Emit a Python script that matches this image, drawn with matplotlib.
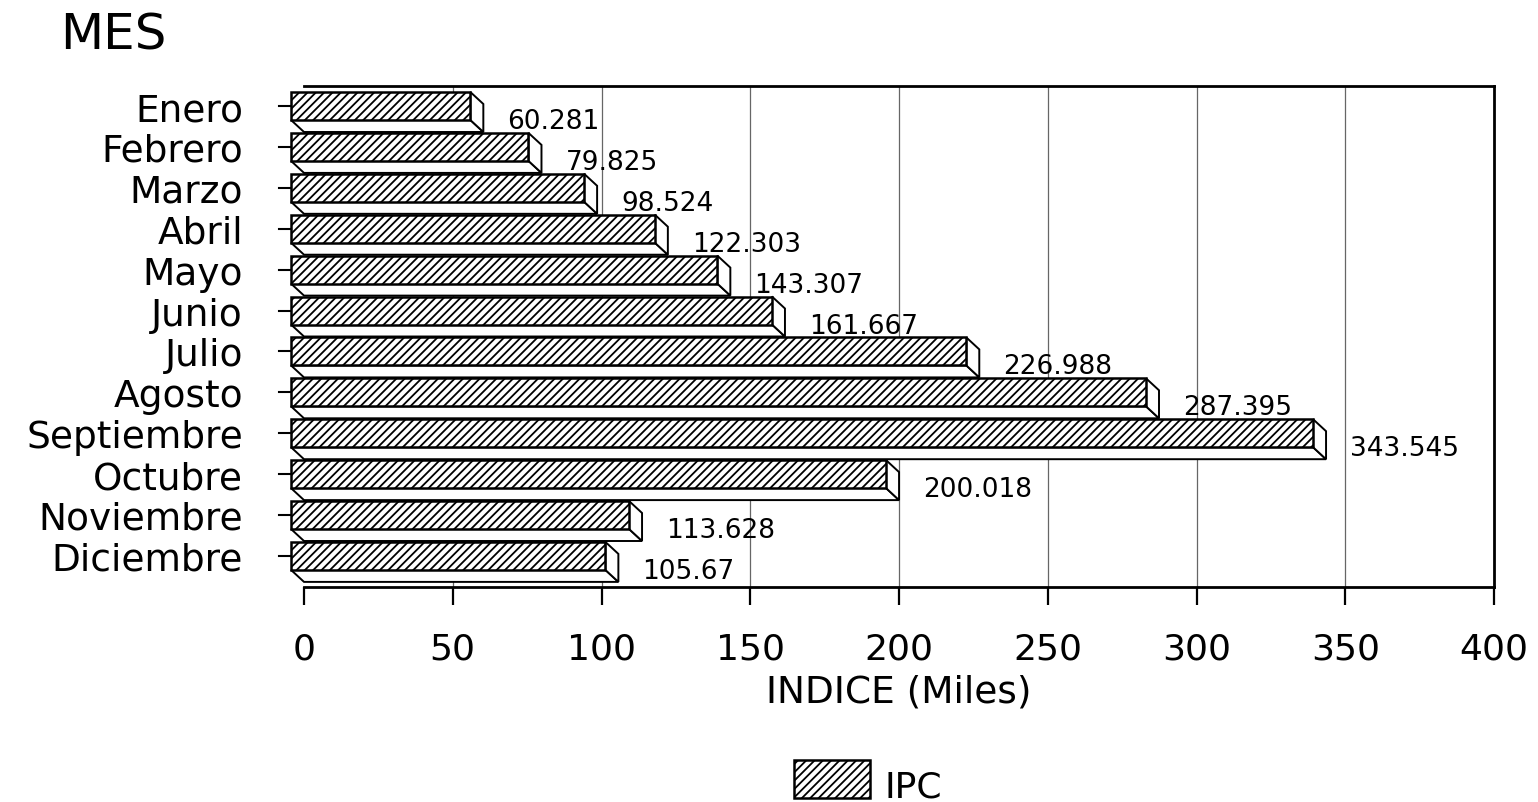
import matplotlib
matplotlib.use("Agg")
import matplotlib.pyplot as plt
from matplotlib.patches import Polygon, Rectangle

# Data (IPC index, thousands)
meses = ["Enero", "Febrero", "Marzo", "Abril", "Mayo", "Junio", "Julio",
         "Agosto", "Septiembre", "Octubre", "Noviembre", "Diciembre"]
ipc = [60.281, 79.825, 98.524, 122.303, 143.307, 161.667, 226.988,
       287.395, 343.545, 200.018, 113.628, 105.67]
etiquetas = ["60.281", "79.825", "98.524", "122.303", "143.307", "161.667",
             "226.988", "287.395", "343.545", "200.018", "113.628", "105.67"]
xticks = [0, 50, 100, 150, 200, 250, 300, 350, 400]

W, H = 1538, 803
plt.rcParams["font.family"] = ["DejaVu Sans"]
plt.rcParams["hatch.linewidth"] = 1.3

fig = plt.figure(figsize=(W / 100, H / 100), dpi=100)

# axes frame in pixels: x 304..1494, y 86.5..588
left_px, right_px, top_px, bot_px = 304, 1494, 86.5, 588
ax = fig.add_axes([left_px / W, 1 - bot_px / H,
                   (right_px - left_px) / W, (bot_px - top_px) / H])

px_x = (right_px - left_px) / 400.0       # pixels per data unit (x)
row_px = 40.9                             # pixels per row (y)
first_row = 107                           # pixel y of first front-face center
ax.set_xlim(0, 400)
ax.set_ylim((bot_px - first_row) / row_px, (top_px - first_row) / row_px)

# 3D offsets (front face sits up-left of the back)
dx = 13 / px_x
dy = 12 / row_px
half = 14 / row_px

for i, v in enumerate(ipc):
    x0, x1 = -dx, v - dx
    yt, yb = i - half, i + half
    # bottom face
    ax.add_patch(Polygon([(x0, yb), (x1, yb), (x1 + dx, yb + dy), (x0 + dx, yb + dy)],
                         closed=True, facecolor="white", edgecolor="black",
                         lw=1.4, zorder=3, clip_on=False))
    # right side face
    ax.add_patch(Polygon([(x1, yt), (x1 + dx, yt + dy), (x1 + dx, yb + dy), (x1, yb)],
                         closed=True, facecolor="white", edgecolor="black",
                         lw=1.4, zorder=3, clip_on=False))
    # front face
    ax.add_patch(Rectangle((x0, yt), v, yb - yt, facecolor="white",
                           edgecolor="black", hatch="////", lw=1.8, zorder=4,
                           clip_on=False))
    ax.text(v + 24 / px_x, i + dy + 3 / row_px, etiquetas[i], fontsize=19,
            ha="left", va="center", zorder=5)
    # category tick mark
    ax.plot([-dx - 12 / px_x, -dx], [i, i], color="black", lw=1.5,
            clip_on=False, zorder=5)

for xv in xticks[1:-1]:
    ax.axvline(xv, color="#666666", lw=0.9, zorder=0)

ax.set_yticks(range(len(meses)))
ax.set_yticklabels(meses, fontsize=27)
ax.tick_params(axis="y", length=0, pad=(304 - 243) * 0.72)

ax.set_xticks(xticks)
ax.set_xticklabels([str(t) for t in xticks], fontsize=26)
ax.tick_params(axis="x", direction="out", length=13, width=1.6, pad=19)

for s in ["top", "right", "bottom"]:
    ax.spines[s].set_linewidth(2)
ax.spines["left"].set_visible(False)

ax.set_xlabel("INDICE (Miles)", fontsize=27, labelpad=6)

fig.text(60 / W, 1 - 50 / H, "MES", fontsize=36, ha="left", va="baseline")

# legend
fig.add_artist(Rectangle((794 / W, 1 - 799 / H), 76 / W, 38 / H,
                         transform=fig.transFigure, facecolor="white",
                         edgecolor="black", hatch="////", lw=1.8))
fig.text(884 / W, 1 - 798 / H, "IPC", fontsize=26, ha="left", va="baseline")

fig.savefig("out.png", dpi=100)
